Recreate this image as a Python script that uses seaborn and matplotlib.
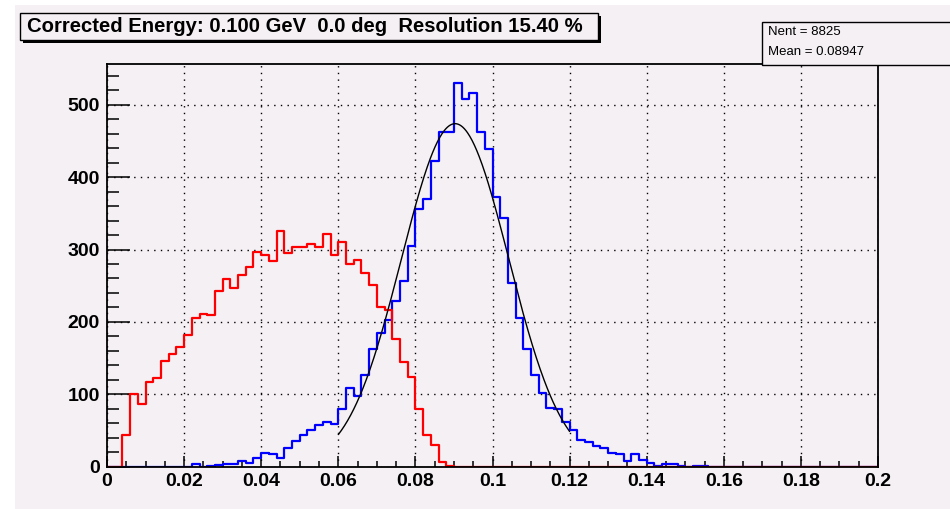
import numpy as np
import pandas as pd
import matplotlib
matplotlib.use("Agg")
import matplotlib.pyplot as plt
from matplotlib import font_manager
from matplotlib.patches import Rectangle
from matplotlib.ticker import MultipleLocator, FuncFormatter
import seaborn as sns

# ---- histogram binning: 100 bins over [0, 0.2] GeV ----
bin_width = 0.002
bin_range = (0.0, 0.2)

# corrected energy (blue), bin contents
corrected_counts = [
    0, 0, 0, 0, 0, 0, 0, 0, 0, 0,
    0, 4, 0, 1, 2, 3, 3, 7, 5, 12,
    19, 17, 12, 26, 35, 44, 51, 58, 62, 59,
    79, 109, 97, 127, 163, 184, 202, 229, 256, 305,
    356, 370, 423, 462, 462, 530, 508, 517, 463, 439,
    372, 343, 254, 206, 163, 127, 102, 81, 80, 61,
    51, 37, 34, 28, 25, 19, 17, 8, 17, 9,
    5, 1, 4, 4, 1, 0, 1, 1, 0, 0,
    0, 0, 0, 0, 0, 0, 0, 0, 0, 0,
    0, 0, 0, 0, 0, 0, 0, 0, 0, 0,
]

# raw (uncorrected) energy (red), bin contents
raw_counts = [
    0, 0, 44, 100, 87, 117, 122, 146, 156, 165,
    182, 205, 211, 209, 243, 259, 247, 265, 276, 296,
    293, 284, 325, 295, 303, 303, 307, 303, 321, 292,
    310, 280, 285, 268, 251, 220, 216, 176, 144, 124,
    80, 44, 30, 6, 1, 0, 0, 0, 0, 0,
    0, 0, 0, 0, 0, 0, 0, 0, 0, 0,
    0, 0, 0, 0, 0, 0, 0, 0, 0, 0,
    0, 0, 0, 0, 0, 0, 0, 0, 0, 0,
    0, 0, 0, 0, 0, 0, 0, 0, 0, 0,
    0, 0, 0, 0, 0, 0, 0, 0, 0, 0,
]

# Gaussian fit to the corrected peak
fit_constant = 474.0
fit_mean = 0.0903
resolution_pct = 15.40
fit_range = (0.06, 0.12)

# text
beam_energy = 0.100
beam_angle = 0.0
n_entries = 8825
hist_mean = 0.08947

x_major = [0.0, 0.02, 0.04, 0.06, 0.08, 0.1, 0.12, 0.14, 0.16, 0.18, 0.2]
y_major = [0, 100, 200, 300, 400, 500]

BG = "#f4f0f4"

sns.set_theme(style="ticks")
names = {f.name for f in font_manager.fontManager.ttflist}
narrow = "Liberation Sans Narrow" if "Liberation Sans Narrow" in names else "Liberation Sans"
plt.rcParams["font.family"] = ["Liberation Sans", "DejaVu Sans"]

fig = plt.figure(figsize=(9.5, 5.09), dpi=100, facecolor="white")
W, H = 950.0, 509.0


def px_rect(x0, y0, x1, y1, **kw):
    return Rectangle((x0 / W, 1 - y1 / H), (x1 - x0) / W, (y1 - y0) / H,
                     transform=fig.transFigure, **kw)


# canvas area
fig.patches.append(px_rect(15, 5, 951, 510, facecolor=BG, edgecolor="none", zorder=-10))

ax = fig.add_axes([107 / W, 1 - 466.5 / H, (878 - 107) / W, (466.5 - 64) / H])
ax.set_facecolor(BG)

n_bins = len(corrected_counts)
centers = bin_range[0] + bin_width * (np.arange(n_bins) + 0.5)
df = pd.DataFrame({"energy": centers,
                   "corrected": corrected_counts,
                   "raw": raw_counts})

sns.histplot(data=df, x="energy", weights="corrected", binwidth=bin_width,
             binrange=bin_range, element="step", fill=False, color="#0000ff",
             linewidth=1.6, ax=ax)
sns.histplot(data=df, x="energy", weights="raw", binwidth=bin_width,
             binrange=bin_range, element="step", fill=False, color="#ff0000",
             linewidth=1.6, ax=ax)

# fit curve, width from the quoted resolution
fit_sigma = resolution_pct / 100.0 * fit_mean
xf = np.linspace(fit_range[0], fit_range[1], 300)
yf = fit_constant * np.exp(-0.5 * ((xf - fit_mean) / fit_sigma) ** 2)
sns.lineplot(x=xf, y=yf, color="black", linewidth=1.0, ax=ax, sort=False)

ymax = 1.05 * max(corrected_counts)
ax.set_xlim(0, 0.2)
ax.set_ylim(0, ymax)
ax.set_xlabel("")
ax.set_ylabel("")

ax.xaxis.set_minor_locator(MultipleLocator(0.005))
ax.yaxis.set_minor_locator(MultipleLocator(20))
ax.set_xticks(x_major)
ax.set_yticks(y_major)
ax.xaxis.set_major_formatter(FuncFormatter(lambda v, p: f"{v:g}"))
ax.yaxis.set_major_formatter(FuncFormatter(lambda v, p: f"{v:g}"))

ax.tick_params(axis="both", which="both", direction="in", color="black",
               width=1.1, top=False, right=False)
ax.tick_params(axis="x", which="major", length=8, pad=5)
ax.tick_params(axis="x", which="minor", length=4.3)
ax.tick_params(axis="y", which="major", length=16.5, pad=5)
ax.tick_params(axis="y", which="minor", length=8.5)
for lab in ax.get_xticklabels() + ax.get_yticklabels():
    lab.set_fontweight("bold")
    lab.set_fontsize(14)
    lab.set_color("black")

ax.grid(which="major", color="black", linestyle=(0, (1.0, 3.8)), linewidth=1.0)
for s in ax.spines.values():
    s.set_visible(True)
    s.set_color("black")
    s.set_linewidth(1.3)

# title pave with drop shadow
fig.patches.append(px_rect(23, 16, 601, 43, facecolor="black", edgecolor="none"))
fig.patches.append(px_rect(20, 13, 598, 40, facecolor=BG, edgecolor="black", linewidth=1.0))
title = (f"Corrected Energy: {beam_energy:.3f} GeV  {beam_angle:.1f} deg  "
         f"Resolution {resolution_pct:.2f} %")
fig.text(27 / W, 1 - 27 / H, title, fontsize=14.6, fontweight="bold",
         family=[narrow, "DejaVu Sans"], ha="left", va="center", color="black")

# statistics box
fig.patches.append(px_rect(762, 22, 960, 65, facecolor=BG, edgecolor="black", linewidth=1.0))
fig.text(768 / W, 1 - 32 / H, f"Nent = {n_entries}", fontsize=9.5,
         family=[narrow, "DejaVu Sans"], ha="left", va="center", color="black")
fig.text(768 / W, 1 - 52 / H, f"Mean = {hist_mean:.5f}", fontsize=9.5,
         family=[narrow, "DejaVu Sans"], ha="left", va="center", color="black")

fig.savefig("out.png", dpi=100, facecolor="white")
